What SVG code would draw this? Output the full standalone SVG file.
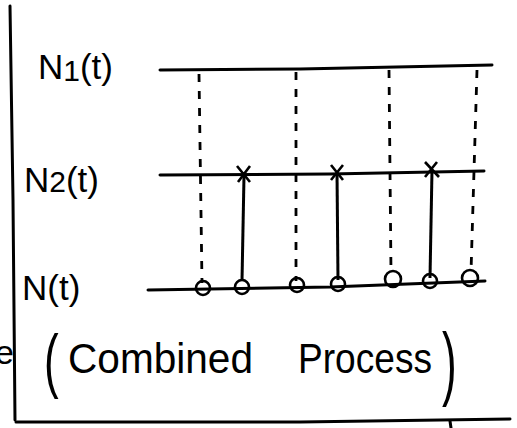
<svg xmlns="http://www.w3.org/2000/svg" width="517" height="428" viewBox="0 0 517 428">
<style>
.lbl{font-family:"Liberation Sans",Arial,sans-serif;fill:#000}
.axis{stroke:#000;stroke-width:3;fill:none;stroke-linecap:round}
.dash{stroke:#000;stroke-width:2.8;fill:none;stroke-dasharray:8 9}
.solid{stroke:#000;stroke-width:3;fill:none}
.ev{stroke:#000;stroke-width:2.6;fill:none}
</style>
<rect width="517" height="428" fill="#fff"/>
<g id="frame">
<path class="axis" d="M10 6 L13 200 L15 420"/>
<path class="axis" d="M16 422 L300 422 L510 419"/>
<path class="axis" d="M450 421 L451 428"/>
<text class="lbl" x="-5" y="364" font-size="34">e</text>
</g>
<g id="label-n1"><text class="lbl" x="38" y="79" font-size="35">N<tspan font-size="30" dy="2">1</tspan><tspan dy="-2">(t)</tspan></text></g>
<g id="label-n2"><text class="lbl" x="24" y="192" font-size="35">N<tspan font-size="30">2</tspan>(t)</text></g>
<g id="label-n"><text class="lbl" x="22" y="300" font-size="35">N(t)</text></g>
<g id="caption">
<text class="lbl" font-size="44" transform="translate(44 384) scale(1 1.6)">(</text>
<text class="lbl" y="373" font-size="42"><tspan x="68" textLength="185" lengthAdjust="spacingAndGlyphs">Combined</tspan><tspan x="298" textLength="134" lengthAdjust="spacingAndGlyphs">Process</tspan></text>
<text class="lbl" font-size="44" transform="translate(442 390) scale(1 1.85)">)</text>
</g>
<g id="process-n1"><path class="axis" d="M160 70 L300 69 L492 65"/></g>
<g id="process-n2"><path class="axis" d="M160 175 L330 174 L484 171"/></g>
<g id="process-n"><path class="axis" d="M148 290 L330 287 L485 281"/></g>
<g id="connectors">
<path class="dash" d="M199 74 L202 283"/>
<path class="dash" d="M296 72 L296 281"/>
<path class="dash" d="M389 70 L391 273"/>
<path class="dash" d="M477 70 L471 272"/>
<path class="solid" d="M244 176 L242 281"/>
<path class="solid" d="M337 172 L338 280"/>
<path class="solid" d="M432 170 L430 278"/>
<path class="ev" d="M237 166 L250 182 M250 166 L238 182"/>
<path class="ev" d="M331 165 L343 180 M343 165 L331 180"/>
<path class="ev" d="M425 162 L439 177 M437 162 L425 177"/>
</g>
<g id="events">
<circle class="ev" cx="203" cy="288" r="7"/>
<circle class="ev" cx="242" cy="287" r="7"/>
<circle class="ev" cx="297" cy="285" r="7"/>
<circle class="ev" cx="338" cy="284" r="7"/>
<circle class="ev" cx="393" cy="279" r="8"/>
<circle class="ev" cx="430" cy="281" r="7"/>
<circle class="ev" cx="470" cy="278" r="8"/>
</g>
</svg>
